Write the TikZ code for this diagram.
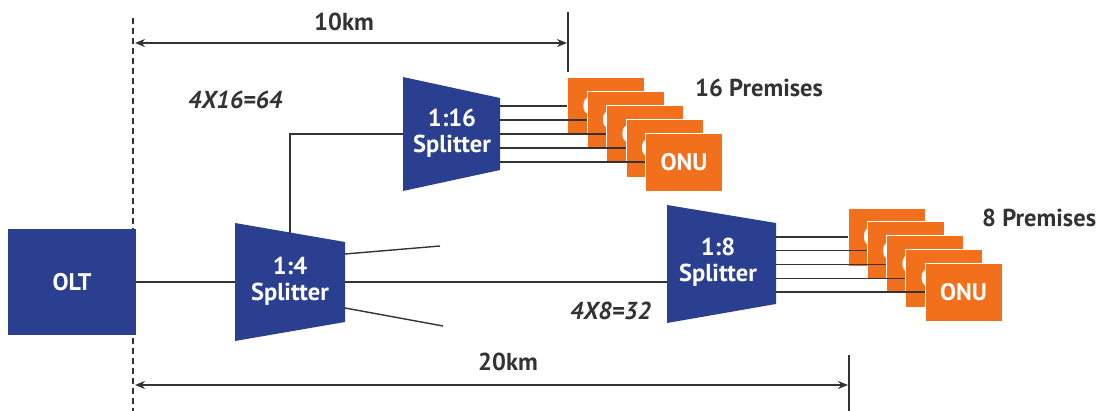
\documentclass[tikz,border=0pt]{standalone}
\usepackage{fontspec}
\setmainfont{PT Sans}
\usetikzlibrary{arrows.meta}
\definecolor{pblue}{HTML}{2B3F91}
\definecolor{porange}{HTML}{F26F1C}
\definecolor{pgray}{HTML}{333333}
\tikzset{
  wire/.style={draw=pgray, line width=1.4pt},
  dimline/.style={draw=pgray, line width=1.4pt, {Stealth[length=10pt,width=8pt]}-{Stealth[length=10pt,width=8pt]}},
  tick/.style={draw=pgray, line width=1.4pt},
  lbl/.style={text=white, font=\fontsize{24.5}{26}\selectfont\bfseries, align=center, inner sep=0pt},
  oltbox/.style={fill=pblue, minimum width=128pt, minimum height=106pt, text=white, font=\fontsize{24}{26}\selectfont\bfseries, inner sep=0pt},
  onu/.style={fill=porange, draw=white, line width=0.8pt, minimum width=77pt, minimum height=58pt, text=white, font=\fontsize{24}{26}\selectfont\bfseries, inner sep=0pt},
  txt/.style={text=pgray, font=\fontsize{24.5}{26}\selectfont\bfseries, inner sep=0pt},
  itxt/.style={text=pgray, font=\fontsize{24.5}{26}\selectfont\bfseries\itshape, inner sep=0pt}
}
\begin{document}
\begin{tikzpicture}[x=1pt,y=-1pt]
\useasboundingbox (0,0) rectangle (1108,411);
% dashed reference line
\draw[pgray, line width=1.2pt, dash pattern=on 6pt off 4pt] (133,18) -- (133,411);
% OLT
\node[oltbox] (olt) at (72,282) {OLT};
% 1:4 splitter
\fill[pblue] (235,223) -- (345,242) -- (345,322) -- (235,341) -- cycle;
\coordinate (s4w) at (235,282);
\coordinate (s4top) at (290,233);
\coordinate (s4a) at (345,254);
\coordinate (s4b) at (345,282);
\coordinate (s4c) at (345,308);
\node[lbl] (s4) at (290,281) {1:4\\Splitter};
% 1:16 splitter
\fill[pblue] (403,77) -- (500,98) -- (500,170) -- (403,191) -- cycle;
\coordinate (s16w) at (403,134);
\coordinate (s16e) at (500,134);
\node[lbl] (s16) at (452,133) {1:16\\Splitter};
% 1:8 splitter
\fill[pblue] (667,205) -- (776,223) -- (776,304) -- (667,323) -- cycle;
\coordinate (s8w) at (667,282);
\coordinate (s8e) at (776,264);
\node[lbl] (s8) at (718,262) {1:8\\Splitter};
% open ends of 1:4 splitter
\coordinate (enda) at (440,246);
\coordinate (endc) at (443,326);
% wires
\draw[wire] (olt.east |- s4w) -- (s4w);
\draw[wire] (s4top) |- (s16w);
\draw[wire] (s4a) -- (enda);
\draw[wire] (s4b) -- (s8w);
\draw[wire] (s4c) -- (endc);
% ONU group 16
\foreach \i in {0,...,4} {
  \node[onu] (pa\i) at ({606+19.5*\i},{106+14*\i}) {ONU};
}
\foreach \i in {0,...,4} {
  \draw[wire] (s16e |- pa\i.west) -- (pa\i.west);
}
% ONU group 8
\foreach \i in {0,...,4} {
  \node[onu] (pb\i) at ({886.5+19.25*\i},{237+13.75*\i}) {ONU};
}
\foreach \i in {0,...,4} {
  \draw[wire] (s8e |- pb\i.west) -- (pb\i.west);
}
% labels
\node[txt, anchor=west] (prem16) at (695,88) {16 Premises};
\node[txt, anchor=west] (prem8) at (982,218) {8 Premises};
\node[itxt, anchor=west] (m64) at (188,100) {4X16=64};
\node[itxt, anchor=west] (m32) at (570,311) {4X8=32};
% dimensions
\coordinate (d10a) at (135,43);
\coordinate (d10b) at (567,43);
\draw[tick] (568,12) -- (568,72);
\draw[dimline] (d10a) -- (d10b);
\node[txt] (k10) at (344,22) {10km};
\coordinate (d20a) at (135,385);
\coordinate (d20b) at (848,385);
\draw[tick] (849,355) -- (849,411);
\draw[dimline] (d20a) -- (d20b);
\node[txt] (k20) at (508,362) {20km};
\end{tikzpicture}
\end{document}
